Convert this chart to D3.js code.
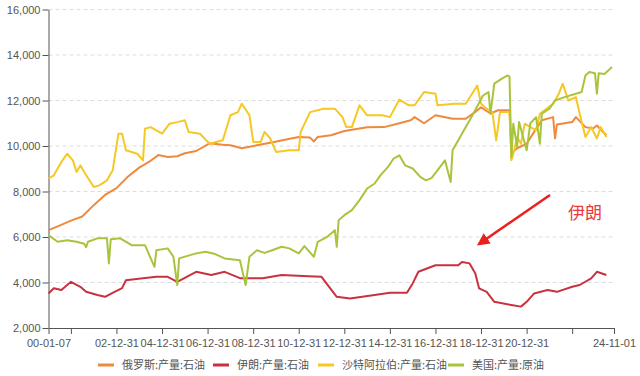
<!DOCTYPE html>
<html>
<head>
<meta charset="utf-8">
<script src="https://cdn.jsdelivr.net/npm/d3@7"></script>
<style>
  body { margin: 0; background: #fff; }
  svg { display: block; font-family: "Liberation Sans", "Noto Sans CJK SC", sans-serif; }
  .axis text { fill: #555; font-size: 11px; }
  .axis path, .axis line { stroke: #555; }
  .grid line { stroke: #ddd; stroke-dasharray: 4,3; }
  .legend text { fill: #555; font-size: 11px; font-family: "Noto Sans CJK SC", sans-serif; }
</style>
</head>
<body>
<svg id="chart" width="640" height="376"></svg>
<script>
const seriesNames = ["俄罗斯:产量:石油", "伊朗:产量:石油", "沙特阿拉伯:产量:石油", "美国:产量:原油"];
const seriesColors = ["#ee8a3e", "#c8323e", "#f6c823", "#a8c43c"];

const russia = [
  ["2000-01-07", 6300], ["2000-07-01", 6500], ["2001-01-01", 6720], ["2001-07-01", 6900],
  ["2002-01-01", 7400], ["2002-07-01", 7850], ["2003-01-01", 8150], ["2003-07-01", 8650],
  ["2004-01-01", 9050], ["2004-07-01", 9350], ["2004-11-01", 9600], ["2005-04-01", 9520],
  ["2005-09-01", 9550], ["2006-01-01", 9680], ["2006-07-01", 9780], ["2007-02-01", 10120],
  ["2007-09-01", 10050], ["2008-01-01", 10030], ["2008-07-01", 9900], ["2009-03-01", 10030],
  ["2009-12-01", 10180], ["2010-07-01", 10300], ["2011-01-01", 10400], ["2011-07-01", 10370],
  ["2011-09-01", 10200], ["2011-11-01", 10400], ["2012-06-01", 10470], ["2013-01-01", 10660],
  ["2014-01-01", 10820], ["2014-10-01", 10830], ["2015-06-01", 11000], ["2015-12-01", 11130],
  ["2016-02-01", 11270], ["2016-07-01", 11000], ["2017-01-01", 11350], ["2017-10-01", 11200],
  ["2018-05-01", 11200], ["2018-10-01", 11500], ["2019-01-01", 11700], ["2019-06-01", 11430],
  ["2019-10-01", 11570], ["2020-04-01", 11570], ["2020-05-01", 9680], ["2020-08-01", 9900],
  ["2021-01-01", 10100], ["2021-05-01", 10620], ["2021-09-01", 11130], ["2022-03-01", 11270],
  ["2022-04-01", 10330], ["2022-05-01", 10950], ["2023-01-01", 11050], ["2023-03-01", 11270],
  ["2023-08-01", 10830], ["2023-12-01", 10770], ["2024-02-01", 10900], ["2024-07-01", 10470]
];

const iran = [
  ["2000-01-07", 3520], ["2000-04-01", 3750], ["2000-08-01", 3670], ["2001-01-01", 4030],
  ["2001-06-01", 3810], ["2001-09-01", 3590], ["2002-03-01", 3450], ["2002-07-01", 3370],
  ["2002-12-01", 3590], ["2003-04-01", 3750], ["2003-06-01", 4100], ["2004-03-01", 4190],
  ["2004-10-01", 4250], ["2005-04-01", 4250], ["2005-09-01", 4030], ["2006-07-01", 4470],
  ["2007-03-01", 4330], ["2007-10-01", 4470], ["2008-06-01", 4190], ["2009-06-01", 4190],
  ["2010-04-01", 4330], ["2011-06-01", 4280], ["2012-01-01", 4250], ["2012-03-01", 4030],
  ["2012-09-01", 3370], ["2013-04-01", 3300], ["2014-05-01", 3450], ["2015-01-01", 3550],
  ["2015-10-01", 3550], ["2016-01-01", 3960], ["2016-04-01", 4470], ["2017-01-01", 4760],
  ["2018-01-01", 4760], ["2018-03-01", 4900], ["2018-07-01", 4840], ["2018-10-01", 4400],
  ["2018-12-01", 3740], ["2019-04-01", 3590], ["2019-08-01", 3150], ["2020-05-01", 3010],
  ["2020-10-01", 2940], ["2021-01-01", 3150], ["2021-05-01", 3520], ["2021-12-01", 3670],
  ["2022-05-01", 3590], ["2023-01-01", 3810], ["2023-05-01", 3890], ["2023-11-01", 4180],
  ["2024-02-01", 4470], ["2024-07-01", 4330]
];

const saudi = [
  ["2000-01-07", 8570], ["2000-04-01", 8710], ["2000-08-01", 9300], ["2000-11-01", 9660],
  ["2001-02-01", 9370], ["2001-04-01", 8860], ["2001-06-01", 9150], ["2001-08-01", 8860],
  ["2002-01-01", 8200], ["2002-04-01", 8270], ["2002-08-01", 8490], ["2002-11-01", 8930],
  ["2003-02-01", 10540], ["2003-04-01", 10540], ["2003-06-01", 9810], ["2003-12-01", 9660],
  ["2004-03-01", 9370], ["2004-04-01", 10760], ["2004-07-01", 10830], ["2005-01-01", 10540],
  ["2005-05-01", 10980], ["2005-09-01", 11050], ["2006-01-01", 11130], ["2006-03-01", 10620],
  ["2006-09-01", 10540], ["2007-02-01", 10100], ["2007-09-01", 10250], ["2008-01-01", 11350],
  ["2008-05-01", 11490], ["2008-07-01", 11860], ["2008-11-01", 11350], ["2009-01-01", 10180],
  ["2009-05-01", 10180], ["2009-07-01", 10620], ["2009-10-01", 10330], ["2010-01-01", 9740],
  ["2010-08-01", 9810], ["2011-01-01", 9810], ["2011-02-01", 10620], ["2011-07-01", 11490],
  ["2012-02-01", 11640], ["2012-08-01", 11640], ["2012-12-01", 11270], ["2013-02-01", 10830],
  ["2013-05-01", 10830], ["2013-09-01", 11790], ["2014-01-01", 11350], ["2014-09-01", 11350],
  ["2015-01-01", 11270], ["2015-06-01", 12040], ["2015-11-01", 11790], ["2016-02-01", 11790],
  ["2016-07-01", 12370], ["2017-01-01", 12300], ["2017-02-01", 11790], ["2017-11-01", 11860],
  ["2018-05-01", 11860], ["2018-11-01", 12660], ["2019-01-01", 11860], ["2019-04-01", 11640],
  ["2019-07-01", 11490], ["2019-09-01", 10250], ["2019-11-01", 11490], ["2020-04-01", 11490],
  ["2020-05-01", 9370], ["2020-06-01", 9660], ["2020-08-01", 10400], ["2020-10-01", 10100],
  ["2020-12-01", 10980], ["2021-06-01", 10690], ["2021-08-01", 11420], ["2022-03-01", 11860],
  ["2022-06-01", 12300], ["2022-08-01", 12740], ["2022-11-01", 12000], ["2023-03-01", 12150],
  ["2023-05-01", 11420], ["2023-08-01", 10400], ["2023-11-01", 10830], ["2024-02-01", 10330],
  ["2024-04-01", 10830], ["2024-07-01", 10400]
];

const usa = [
  ["2000-01-07", 6080], ["2000-06-01", 5790], ["2000-11-01", 5860], ["2001-04-01", 5790],
  ["2001-08-01", 5700], ["2001-09-01", 5550], ["2001-10-01", 5790], ["2002-03-01", 5940],
  ["2002-08-01", 5940], ["2002-09-01", 4840], ["2002-10-01", 5900], ["2003-03-01", 5940],
  ["2003-09-01", 5640], ["2004-04-01", 5640], ["2004-09-01", 4690], ["2004-10-01", 5420],
  ["2005-04-01", 5500], ["2005-07-01", 5130], ["2005-09-01", 3890], ["2005-10-01", 5060],
  ["2006-07-01", 5280], ["2006-12-01", 5350], ["2007-05-01", 5250], ["2007-10-01", 5060],
  ["2008-06-01", 4980], ["2008-09-01", 3890], ["2008-11-01", 5130], ["2009-03-01", 5420],
  ["2009-07-01", 5300], ["2009-11-01", 5420], ["2010-04-01", 5570], ["2010-08-01", 5500],
  ["2011-01-01", 5280], ["2011-04-01", 5600], ["2011-09-01", 5130], ["2011-11-01", 5790],
  ["2012-04-01", 6010], ["2012-08-01", 6300], ["2012-09-01", 5570], ["2012-10-01", 6740],
  ["2013-01-01", 6960], ["2013-05-01", 7180], ["2013-09-01", 7620], ["2014-01-01", 8130],
  ["2014-05-01", 8350], ["2014-08-01", 8710], ["2014-12-01", 9080], ["2015-03-01", 9450],
  ["2015-06-01", 9590], ["2015-09-01", 9150], ["2016-01-01", 9010], ["2016-05-01", 8640],
  ["2016-08-01", 8490], ["2016-11-01", 8600], ["2017-02-01", 8930], ["2017-06-01", 9370],
  ["2017-09-01", 8420], ["2017-10-01", 9810], ["2018-01-01", 10250], ["2018-05-01", 10830],
  ["2018-08-01", 11270], ["2019-02-01", 12220], ["2019-05-01", 12370], ["2019-06-01", 11420],
  ["2019-08-01", 12740], ["2019-12-01", 12960], ["2020-03-01", 13100], ["2020-04-01", 13050],
  ["2020-05-01", 9520], ["2020-06-01", 10980], ["2020-08-01", 9960], ["2020-09-01", 11050],
  ["2021-01-01", 9810], ["2021-03-01", 11000], ["2021-06-01", 11270], ["2021-08-01", 10100],
  ["2021-09-01", 11420], ["2022-01-01", 11640], ["2022-04-01", 12000], ["2022-09-01", 12150],
  ["2023-03-01", 12300], ["2023-06-01", 12370], ["2023-08-01", 13100], ["2023-10-01", 13250],
  ["2024-01-01", 13200], ["2024-02-01", 12300], ["2024-03-01", 13200], ["2024-06-01", 13170],
  ["2024-08-01", 13320], ["2024-10-01", 13470]
];

// x ticks: every other year end, labels dropped where they would overlap
const xTickDates = ["2000-01-07", "2000-12-31", "2002-12-31", "2004-12-31", "2006-12-31", "2008-12-31",
  "2010-12-31", "2012-12-31", "2014-12-31", "2016-12-31", "2018-12-31", "2020-12-31", "2022-12-31", "2024-11-01"];
const xTickLabels = ["00-01-07", "", "02-12-31", "04-12-31", "06-12-31", "08-12-31",
  "10-12-31", "12-12-31", "14-12-31", "16-12-31", "18-12-31", "20-12-31", "", "24-11-01"];
const yTicks = [2000, 4000, 6000, 8000, 10000, 12000, 14000, 16000];

const annotationText = "伊朗";

const parse = d3.timeParse("%Y-%m-%d");
const svg = d3.select("#chart");
const margin = { top: 9.5, right: 26, bottom: 48, left: 48.5 };
const width = 640 - margin.left - margin.right;
const height = 376 - margin.top - margin.bottom;

const chart = svg.append("g")
    .attr("transform", `translate(${margin.left},${margin.top})`);

const x = d3.scaleTime()
    .domain([parse("2000-01-07"), parse("2024-11-01")])
    .range([0, width]);
const y = d3.scaleLinear()
    .domain([2000, 16000])
    .range([height, 0]);

// Grid
chart.append("g")
    .attr("class", "grid")
    .selectAll("line")
    .data(yTicks.slice(1))
    .enter().append("line")
    .attr("x1", 0)
    .attr("x2", width)
    .attr("y1", d => y(d))
    .attr("y2", d => y(d));

// Axes
const xAxis = d3.axisBottom(x)
    .tickValues(xTickDates.map(parse))
    .tickFormat((d, i) => xTickLabels[i])
    .tickSize(6)
    .tickSizeOuter(0);
chart.append("g")
    .attr("class", "axis")
    .attr("transform", `translate(0,${height})`)
    .call(xAxis)
    .selectAll("text").attr("dy", "0.9em");

const yAxis = d3.axisLeft(y)
    .tickValues(yTicks)
    .tickFormat(d3.format(","))
    .tickSize(6)
    .tickSizeOuter(0);
chart.append("g")
    .attr("class", "axis")
    .call(yAxis)
    .selectAll("text").attr("x", -8);

// Lines
const line = d3.line()
    .x(d => x(parse(d[0])))
    .y(d => y(d[1]));

[russia, iran, saudi, usa].forEach((s, i) => {
    chart.append("path")
        .datum(s)
        .attr("fill", "none")
        .attr("stroke", seriesColors[i])
        .attr("stroke-width", 2)
        .attr("stroke-linejoin", "round")
        .attr("d", line);
});

// Annotation
svg.append("defs").append("marker")
    .attr("id", "arrow")
    .attr("viewBox", "0 0 10 10")
    .attr("refX", 8)
    .attr("refY", 5)
    .attr("markerWidth", 5)
    .attr("markerHeight", 5)
    .attr("orient", "auto")
    .append("path")
    .attr("d", "M0,0 L10,5 L0,10 z")
    .attr("fill", "#e8201e");

svg.append("line")
    .attr("x1", 550).attr("y1", 195)
    .attr("x2", 479).attr("y2", 244)
    .attr("stroke", "#e8201e")
    .attr("stroke-width", 2.5)
    .attr("marker-end", "url(#arrow)");

svg.append("text")
    .attr("x", 568)
    .attr("y", 219)
    .attr("fill", "#e83a3a")
    .style("font-size", "17px")
    .style("font-family", "Noto Sans CJK SC")
    .text(annotationText);

// Legend
const legendX = [98, 213, 318, 448];
const legend = svg.append("g").attr("class", "legend");
seriesNames.forEach((name, i) => {
    const g = legend.append("g").attr("transform", `translate(${legendX[i]},365)`);
    g.append("line")
        .attr("x1", 0).attr("x2", 16)
        .attr("stroke", seriesColors[i])
        .attr("stroke-width", 3);
    g.append("text")
        .attr("x", 24)
        .attr("dy", "0.35em")
        .text(name);
});
</script>
</body>
</html>
